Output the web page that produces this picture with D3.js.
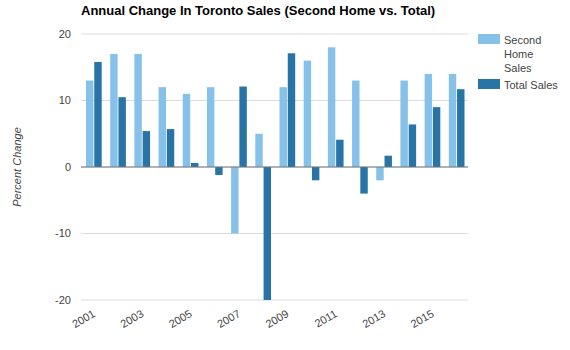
<!DOCTYPE html>
<html>
<head>
<meta charset="utf-8">
<script src="https://cdn.jsdelivr.net/npm/d3@7"></script>
<style>
  body { margin: 0; background: #fff; }
  svg text { font-family: Arial, "Liberation Sans", sans-serif; }
</style>
</head>
<body>
<div id="chart"></div>
<script>
// dữ liệu
const years = ["2001","2002","2003","2004","2005","2006","2007","2008",
               "2009","2010","2011","2012","2013","2014","2015","2016"];
const secondHome = [13, 17, 17, 12, 11, 12, -10, 5, 12, 16, 18, 13, -2, 13, 14, 14];
const totalSales = [15.8, 10.5, 5.4, 5.7, 0.6, -1.2, 12.1, -20, 17.1, -2.0, 4.1, -4.0, 1.7, 6.4, 9.0, 11.7];
const yTicks = [-20, -10, 0, 10, 20];
const xLabels = ["2001","2003","2005","2007","2009","2011","2013","2015"];
const seriesNames = ["Second Home Sales", "Total Sales"];
const colors = ["#85c1e9", "#2874a6"];

const width = 570, height = 350;
const margin = { top: 34, right: 102, bottom: 50, left: 81 };
const innerW = width - margin.left - margin.right;
const innerH = height - margin.top - margin.bottom;

const svg = d3.select("#chart").append("svg")
  .attr("width", width)
  .attr("height", height);

// tiêu đề
svg.append("text")
  .attr("x", margin.left)
  .attr("y", 15)
  .style("font-size", "13px")
  .style("font-weight", "bold")
  .style("fill", "#000")
  .text("Annual Change In Toronto Sales (Second Home vs. Total)");

const g = svg.append("g")
  .attr("transform", `translate(${margin.left},${margin.top})`);

const x = d3.scaleBand().domain(years).range([0, innerW]).paddingInner(0).paddingOuter(0);
const y = d3.scaleLinear().domain([-20, 20]).range([innerH, 0]);

// lưới
g.selectAll(".grid")
  .data(yTicks)
  .enter().append("line")
    .attr("x1", 0).attr("x2", innerW)
    .attr("y1", d => y(d)).attr("y2", d => y(d))
    .attr("stroke", "#dcdcdc")
    .attr("stroke-width", 1);

// nhãn trục y
g.selectAll(".ytick")
  .data(yTicks)
  .enter().append("text")
    .attr("x", -10)
    .attr("y", d => y(d))
    .attr("dy", "0.35em")
    .attr("text-anchor", "end")
    .style("font-size", "11px")
    .style("fill", "#444")
    .text(d => d);

// tên trục y
svg.append("text")
  .attr("transform", `translate(21,${margin.top + y(0)}) rotate(-90)`)
  .attr("text-anchor", "middle")
  .style("font-size", "11px")
  .style("font-style", "italic")
  .style("fill", "#444")
  .text("Percent Change");

// cột
const sub = d3.scaleBand().domain([0, 1]).range([5, x.bandwidth() - 3.5]).paddingInner(0.1);
const rows = years.map((yr, i) => ({ yr, vals: [secondHome[i], totalSales[i]] }));

const grp = g.selectAll(".grp")
  .data(rows)
  .enter().append("g")
    .attr("transform", d => `translate(${x(d.yr)},0)`);

grp.selectAll("rect")
  .data(d => d.vals.map((v, k) => ({ v, k })))
  .enter().append("rect")
    .attr("x", d => sub(d.k))
    .attr("width", sub.bandwidth())
    .attr("y", d => y(Math.max(0, d.v)))
    .attr("height", d => Math.abs(y(d.v) - y(0)))
    .attr("fill", d => colors[d.k]);

// đường 0
g.append("line")
  .attr("x1", 0).attr("x2", innerW)
  .attr("y1", y(0)).attr("y2", y(0))
  .attr("stroke", "#777")
  .attr("stroke-width", 1);

// nhãn trục x
g.selectAll(".xlab")
  .data(xLabels)
  .enter().append("text")
    .attr("text-anchor", "end")
    .attr("transform", d => `translate(${x(d) + x.bandwidth() / 2 + 3},${innerH + 16}) rotate(-30)`)
    .style("font-size", "11px")
    .style("fill", "#444")
    .text(d => d);

// chú giải
const lg = svg.append("g").attr("transform", "translate(478,34)");
lg.append("rect").attr("width", 22).attr("height", 10).attr("fill", colors[0]);
["Second", "Home", "Sales"].forEach((t, i) => {
  lg.append("text")
    .attr("x", 26).attr("y", 9.5 + i * 14)
    .style("font-size", "11px").style("fill", "#444")
    .text(t);
});
lg.append("rect").attr("y", 45).attr("width", 22).attr("height", 10).attr("fill", colors[1]);
lg.append("text")
  .attr("x", 26).attr("y", 54.5)
  .style("font-size", "11px").style("fill", "#444")
  .text(seriesNames[1]);
</script>
</body>
</html>
